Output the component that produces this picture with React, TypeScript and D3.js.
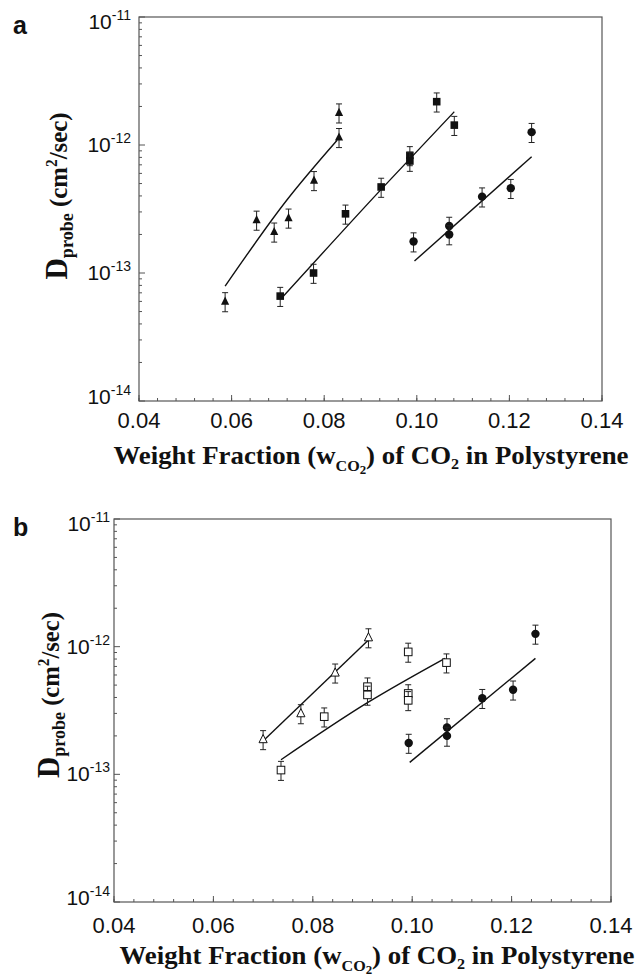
import React from "react";
import * as d3 from "d3";

// ---------- data ----------
const xTicks = [0.04, 0.06, 0.08, 0.1, 0.12, 0.14];
const xTickLabels = ["0.04", "0.06", "0.08", "0.10", "0.12", "0.14"];
const yTickExps = [-11, -12, -13, -14];
const relErr = 0.17;

// panel a (filled symbols)
const triA_x = [0.0586, 0.0654, 0.0692, 0.0723, 0.0778, 0.0832, 0.0832];
const triA_y = [6.0e-14, 2.6e-13, 2.1e-13, 2.7e-13, 5.3e-13, 1.15e-12, 1.79e-12];
const triA_fit_x = [0.0586, 0.0719, 0.0828];
const triA_fit_y = [7.9e-14, 3.7e-13, 1.09e-12];

const sqA_x = [0.0705, 0.0777, 0.0846, 0.0923, 0.0985, 0.0985, 0.1043, 0.1081];
const sqA_y = [6.6e-14, 1.0e-13, 2.9e-13, 4.7e-13, 8.3e-13, 7.5e-13, 2.18e-12, 1.43e-12];
const sqA_fit_x = [0.0707, 0.0923, 0.1081];
const sqA_fit_y = [6.3e-14, 4.5e-13, 1.82e-12];

// circles (both panels)
const circ_x = [0.0993, 0.107, 0.107, 0.1141, 0.1203, 0.1248];
const circ_y = [1.76e-13, 2.33e-13, 2.0e-13, 3.95e-13, 4.6e-13, 1.26e-12];
const circ_fit_x = [0.0995, 0.1248];
const circ_fit_y = [1.24e-13, 8.1e-13];

// panel b (open symbols)
const triB_x = [0.07, 0.0776, 0.0845, 0.0912];
const triB_y = [1.88e-13, 3.0e-13, 6.25e-13, 1.18e-12];
const triB_fit_x = [0.0702, 0.0912];
const triB_fit_y = [1.86e-13, 1.13e-12];

const sqB_x = [0.0736, 0.0823, 0.091, 0.091, 0.0992, 0.0992, 0.0992, 0.1069];
const sqB_y = [1.08e-13, 2.83e-13, 4.86e-13, 4.19e-13, 9.1e-13, 4.3e-13, 3.8e-13, 7.5e-13];
const sqB_fit_x = [0.0736, 0.091, 0.1066];
const sqB_fit_y = [1.3e-13, 3.64e-13, 8.1e-13];

type Series = { xs: number[]; ys: number[]; shape: "tri" | "sq" | "circ"; filled: boolean };
type Fit = { xs: number[]; ys: number[] };

const panels = [
  {
    letter: "a",
    left: 139, right: 602, top: 17, bottom: 401,
    labelGap: 8, xLabelDy: 27,
    xTitleCx: 371, xTitleY: 464, xTitleLen: 515,
    yTitleX: 67, yTitleCy: 196, yTitleLen: 167,
    series: [
      { xs: triA_x, ys: triA_y, shape: "tri", filled: true },
      { xs: sqA_x, ys: sqA_y, shape: "sq", filled: true },
      { xs: circ_x, ys: circ_y, shape: "circ", filled: true },
    ] as Series[],
    fits: [
      { xs: triA_fit_x, ys: triA_fit_y },
      { xs: sqA_fit_x, ys: sqA_fit_y },
      { xs: circ_fit_x, ys: circ_fit_y },
    ] as Fit[],
  },
  {
    letter: "b",
    left: 114, right: 611, top: 519, bottom: 902,
    labelGap: 4, xLabelDy: 31,
    xTitleCx: 377, xTitleY: 964, xTitleLen: 515,
    yTitleX: 59, yTitleCy: 695, yTitleLen: 166,
    series: [
      { xs: triB_x, ys: triB_y, shape: "tri", filled: false },
      { xs: sqB_x, ys: sqB_y, shape: "sq", filled: false },
      { xs: circ_x, ys: circ_y, shape: "circ", filled: true },
    ] as Series[],
    fits: [
      { xs: triB_fit_x, ys: triB_fit_y },
      { xs: sqB_fit_x, ys: sqB_fit_y },
      { xs: circ_fit_x, ys: circ_fit_y },
    ] as Fit[],
  },
];

const SANS = "'Liberation Sans', Arial, Helvetica, sans-serif";
const SERIF = "'Liberation Serif', 'Times New Roman', serif";

function Marker({ cx, cy, shape, filled }: { cx: number; cy: number; shape: string; filled: boolean }) {
  const fill = filled ? "#111" : "#fff";
  const sw = filled ? 0 : 1;
  if (shape === "circ") return <circle cx={cx} cy={cy} r={4.2} fill={fill} stroke="#111" strokeWidth={sw} />;
  if (shape === "sq") return <rect x={cx - 3.8} y={cy - 3.8} width={7.6} height={7.6} fill={fill} stroke="#111" strokeWidth={sw} />;
  const s = 4.8;
  return (
    <path
      d={`M${cx},${cy - s} L${cx + s * 0.85},${cy + s * 0.7} L${cx - s * 0.85},${cy + s * 0.7} Z`}
      fill={fill}
      stroke="#111"
      strokeWidth={sw}
    />
  );
}

function Panel({ p }: { p: (typeof panels)[number] }) {
  const x = d3.scaleLinear().domain([0.04, 0.14]).range([p.left, p.right]);
  const y = d3.scaleLog().domain([1e-14, 1e-11]).range([p.bottom, p.top]);
  const line = d3
    .line<[number, number]>()
    .x((d) => x(d[0]))
    .y((d) => y(d[1]))
    .curve(d3.curveMonotoneX);

  const minorX = d3.range(0, 26).map((i) => 0.04 + i * 0.004);
  const minorY: number[] = [];
  [-14, -13, -12].forEach((e) => {
    for (let m = 2; m <= 9; m++) minorY.push(m * Math.pow(10, e));
  });

  return (
    <g>
      <text x={13} y={p.top + 17} fontFamily={SANS} fontWeight="bold" fontSize={25} fill="#111">
        {p.letter}
      </text>
      {/* frame */}
      <rect x={p.left} y={p.top} width={p.right - p.left} height={p.bottom - p.top} fill="none" stroke="#555" strokeWidth={1.2} />
      {/* y minor ticks */}
      {minorY.map((v, i) => (
        <line key={"my" + i} x1={p.left} x2={p.left + 3} y1={y(v)} y2={y(v)} stroke="#555" strokeWidth={1} />
      ))}
      {/* x minor ticks */}
      {minorX.map((v, i) => (
        <line key={"mx" + i} x1={x(v)} x2={x(v)} y1={p.bottom} y2={p.bottom - 3} stroke="#555" strokeWidth={1} />
      ))}
      {/* x major ticks + labels */}
      {xTicks.map((v, i) => (
        <g key={"xt" + i}>
          <line x1={x(v)} x2={x(v)} y1={p.bottom} y2={p.bottom - 6} stroke="#555" strokeWidth={1} />
          <text x={x(v)} y={p.bottom + p.xLabelDy} textAnchor="middle" fontFamily={SANS} fontSize={22} fill="#111">
            {xTickLabels[i]}
          </text>
        </g>
      ))}
      {/* y major ticks + labels */}
      {yTickExps.map((e, i) => {
        const yy = y(Math.pow(10, e));
        const off = i === 0 ? 12 : i === yTickExps.length - 1 ? 3 : 7;
        return (
          <g key={"yt" + i}>
            <line x1={p.left} x2={p.left + 6} y1={yy} y2={yy} stroke="#555" strokeWidth={1} />
            <text x={p.left - p.labelGap} y={yy + off} textAnchor="end" fontFamily={SANS} fontSize={21} fill="#111">
              10
              <tspan fontSize={14} dy={-9}>
                {String(e)}
              </tspan>
            </text>
          </g>
        );
      })}
      {/* fit lines */}
      {p.fits.map((f, i) => (
        <path
          key={"f" + i}
          d={line(f.xs.map((v, j) => [v, f.ys[j]] as [number, number])) || ""}
          fill="none"
          stroke="#111"
          strokeWidth={1.4}
        />
      ))}
      {/* error bars + markers */}
      {p.series.map((s, si) =>
        s.xs.map((v, j) => {
          const cx = x(v);
          const cy = y(s.ys[j]);
          const yHi = y(s.ys[j] * (1 + relErr));
          const yLo = y(s.ys[j] * (1 - relErr));
          return (
            <g key={`s${si}-${j}`}>
              <line x1={cx} x2={cx} y1={yHi} y2={yLo} stroke="#222" strokeWidth={1} />
              <line x1={cx - 3} x2={cx + 3} y1={yHi} y2={yHi} stroke="#222" strokeWidth={1} />
              <line x1={cx - 3} x2={cx + 3} y1={yLo} y2={yLo} stroke="#222" strokeWidth={1} />
              <Marker cx={cx} cy={cy} shape={s.shape} filled={s.filled} />
            </g>
          );
        })
      )}
      {/* x title */}
      <text
        x={p.xTitleCx}
        y={p.xTitleY}
        textAnchor="middle"
        fontFamily={SERIF}
        fontWeight="bold"
        fontSize={25}
        fill="#111"
        textLength={p.xTitleLen}
        lengthAdjust="spacingAndGlyphs"
      >
        Weight Fraction (w
        <tspan fontSize={15} dy={7}>CO</tspan>
        <tspan fontSize={12} dy={3}>2</tspan>
        <tspan dy={-10}>) of CO</tspan>
        <tspan fontSize={15} dy={5}>2</tspan>
        <tspan dy={-5}> in Polystyrene</tspan>
      </text>
      {/* y title */}
      <text
        transform={`translate(${p.yTitleX},${p.yTitleCy}) rotate(-90)`}
        textAnchor="middle"
        fontFamily={SERIF}
        fontWeight="bold"
        fontSize={26}
        fill="#111"
        textLength={p.yTitleLen}
        lengthAdjust="spacingAndGlyphs"
      >
        <tspan fontSize={31}>D</tspan>
        <tspan fontSize={19} dy={6}>probe</tspan>
        <tspan dy={-6}> (cm</tspan>
        <tspan fontSize={16} dy={-10}>2</tspan>
        <tspan dy={10}>/sec)</tspan>
      </text>
    </g>
  );
}

export default function App() {
  return (
    <svg
      width={636}
      height={977}
      style={{ position: "absolute", left: 0, top: 0, display: "block", background: "#fff" }}
    >
      <rect width={636} height={977} fill="#fff" />
      {panels.map((p) => (
        <Panel key={p.letter} p={p} />
      ))}
    </svg>
  );
}
